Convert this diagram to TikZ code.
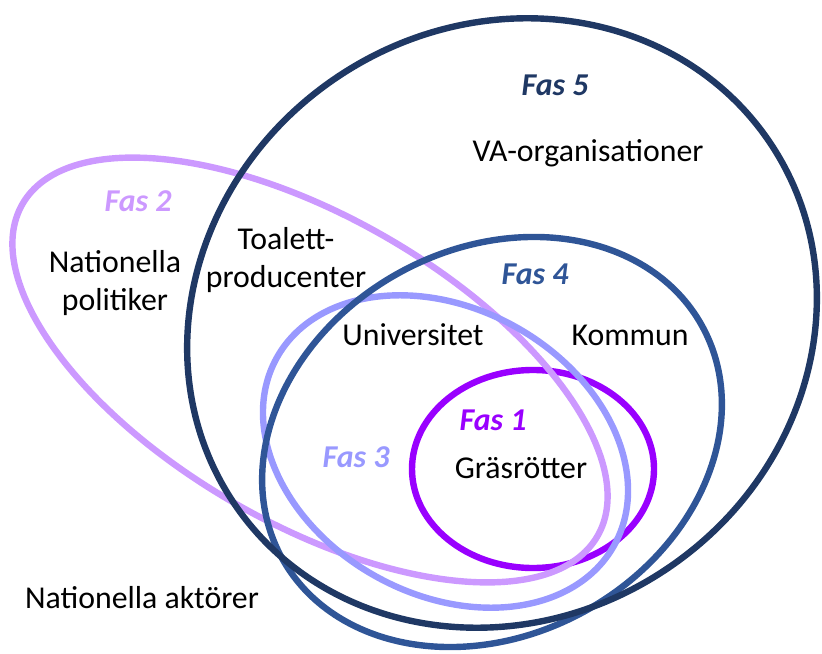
\documentclass[tikz,border=0pt]{standalone}
\usepackage{fontspec}
\setmainfont{Carlito}
\definecolor{fasfive}{HTML}{1F3864}
\definecolor{fasfour}{HTML}{2F5597}
\definecolor{fasthree}{HTML}{9999FF}
\definecolor{fastwo}{HTML}{CC99FF}
\definecolor{fasone}{HTML}{9900FF}
\tikzset{
  ring/.style={line width=3.2pt},
  lbl/.style={inner sep=0pt, anchor=base, font=\fontsize{15.9}{19}\selectfont},
  faslbl/.style={lbl, font=\fontsize{15.9}{19}\selectfont\bfseries\itshape},
}
\begin{document}
\begin{tikzpicture}[x=0.5pt,y=0.5pt]
\useasboundingbox (0,0) rectangle (822,653);
% Fas 1
\draw[ring, fasone] (533,184) ellipse [x radius=121, y radius=99];
% Fas 2
\draw[ring, fastwo, rotate around={-30:(310,283)}] (310,283) ellipse [x radius=332, y radius=153];
% Fas 3
\draw[ring, fasthree, rotate around={-29:(445.5,201.5)}] (445.5,201.5) ellipse [x radius=193, y radius=143];
% Fas 4
\draw[ring, fasfour, rotate around={29:(492,211)}] (492,211) ellipse [x radius=240, y radius=193];
% Fas 5
\draw[ring, fasfive, rotate around={34:(502,330)}] (502,330) ellipse [x radius=323, y radius=296];

\node[faslbl, text=fasfive] (f5) at (555,557) {Fas 5};
\node[lbl] (va) at (588,491) {VA-organisationer};
\node[faslbl, text=fastwo] (f2) at (138,441) {Fas 2};
\node[lbl, align=center] (np) at (115,342) {Nationella\\politiker};
\node[lbl, align=center] (tp) at (286,365) {Toalett-\\producenter};
\node[faslbl, text=fasfour] (f4) at (535,368) {Fas 4};
\node[lbl] (uni) at (413,307) {Universitet};
\node[lbl] (kom) at (630,307) {Kommun};
\node[faslbl, text=fasone] (f1) at (493,223) {Fas 1};
\node[lbl] (gr) at (521,175) {Gräsrötter};
\node[faslbl, text=fasthree] (f3) at (356,186) {Fas 3};
\node[lbl] (na) at (142,45) {Nationella aktörer};
\end{tikzpicture}
\end{document}
